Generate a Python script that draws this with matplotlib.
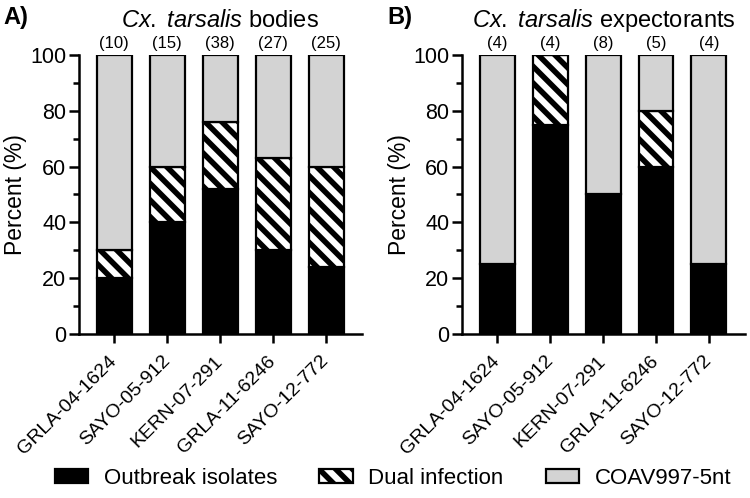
import numpy as np
import matplotlib.pyplot as plt
from matplotlib.patches import Patch

plt.rcParams['font.family'] = ['Liberation Sans', 'DejaVu Sans']
plt.rcParams['mathtext.fontset'] = 'custom'
plt.rcParams['mathtext.it'] = 'Liberation Sans:italic'
plt.rcParams['mathtext.rm'] = 'Liberation Sans'
plt.rcParams['hatch.linewidth'] = 4.0

STRAINS = ["GRLA-04-1624", "SAYO-05-912", "KERN-07-291", "GRLA-11-6246", "SAYO-12-772"]

# panel A: bodies
BODY_N = [10, 15, 38, 27, 25]
BODY_OUTBREAK = [20, 40, 52, 30, 24]
BODY_DUAL = [10, 20, 24, 33, 36]

# panel B: expectorants
EXP_N = [4, 4, 8, 5, 4]
EXP_OUTBREAK = [25, 75, 50, 60, 25]
EXP_DUAL = [0, 25, 0, 20, 0]

GREY = "#d3d3d3"

fig = plt.figure(figsize=(7.5, 4.98), dpi=100)
ax_a = fig.add_axes([0.105, 0.329, 0.378, 0.561])
ax_b = fig.add_axes([0.616, 0.329, 0.377, 0.561])

panels = [
    (ax_a, "A)", r"$\it{Cx.\ tarsalis}$ bodies", BODY_N, BODY_OUTBREAK, BODY_DUAL),
    (ax_b, "B)", r"$\it{Cx.\ tarsalis}$ expectorants", EXP_N, EXP_OUTBREAK, EXP_DUAL),
]

for ax, tag, title, n, outbreak, dual in panels:
    x = np.arange(len(STRAINS))
    outbreak = np.array(outbreak)
    dual = np.array(dual)
    coav = 100 - outbreak - dual
    w = 0.66
    ax.bar(x, outbreak, w, color="black", edgecolor="black", linewidth=1.6)
    ax.bar(x, dual, w, bottom=outbreak, color="white", edgecolor="black",
           hatch="\\\\", linewidth=1.6)
    ax.bar(x, coav, w, bottom=outbreak + dual, color=GREY, edgecolor="black", linewidth=1.6)
    for xi, ni in zip(x, n):
        ax.text(xi, 101.5, f"({ni})", ha="center", va="bottom", fontsize=12)
    ax.set_xlim(-0.67, 4.68)
    ax.set_ylim(0, 100)
    ax.set_yticks([0, 20, 40, 60, 80, 100])
    ax.set_yticks(np.arange(10, 100, 20), minor=True)
    ax.set_xticks(x)
    ax.set_xticklabels(STRAINS, rotation=45, ha="right", va="center",
                       rotation_mode="anchor", fontsize=14)
    ax.tick_params(axis="y", labelsize=15.5, width=1.8, length=7, pad=2)
    ax.tick_params(axis="y", which="minor", width=1.8, length=4)
    ax.tick_params(axis="x", width=1.8, length=6.5, pad=11)
    for s in ["top", "right"]:
        ax.spines[s].set_visible(False)
    for s in ["left", "bottom"]:
        ax.spines[s].set_linewidth(1.8)
    ax.set_ylabel("Percent (%)", fontsize=16.5, labelpad=2)
    ax.set_title(title, fontsize=17, pad=20)
    pos = ax.get_position()
    fig.text(pos.x0 - 0.1, 0.965, tag, fontsize=17, fontweight="bold", va="center")

handles = [
    Patch(facecolor="black", edgecolor="black", linewidth=1.6, label="Outbreak isolates"),
    Patch(facecolor="white", edgecolor="black", hatch="\\\\", linewidth=1.6, label="Dual infection"),
    Patch(facecolor=GREY, edgecolor="black", linewidth=1.6, label="COAV997-5nt"),
]
fig.legend(handles=handles, loc="center", bbox_to_anchor=(0.524, 0.04), ncol=3,
           frameon=False, fontsize=16,
           handlelength=1.5, handleheight=0.6, columnspacing=1.9, handletextpad=0.7)

fig.savefig("out.png", dpi=100)
